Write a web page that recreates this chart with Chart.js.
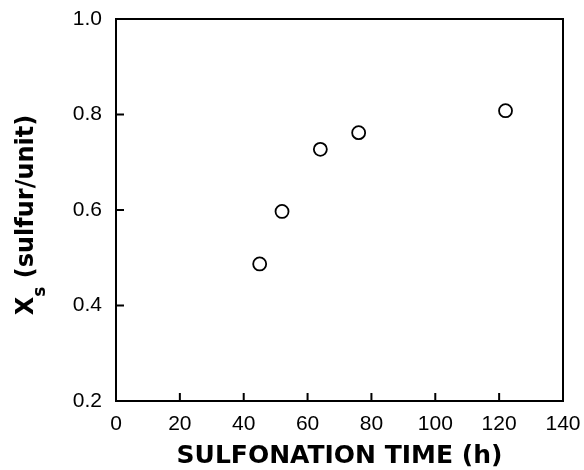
<!DOCTYPE html>
<html lang="en">
<head>
    <meta charset="UTF-8">
    <title>Sulfonation time</title>
    <script src="https://cdn.jsdelivr.net/npm/chart.js"></script>
    <style>
        html, body {margin:0; padding:0; background:#fff;}
        .wrap {width:584px; height:470px; position:relative;}
    </style>
</head>
<body>
    <div class="wrap"><canvas id="chart"></canvas></div>
    <script>
    // values
    const timeHours = [45, 52, 64, 76, 122];
    const sulfurPerUnit = [0.487, 0.597, 0.727, 0.762, 0.808];
    const xTicks = [0, 20, 40, 60, 80, 100, 120, 140];
    const yTicks = [0.2, 0.4, 0.6, 0.8, 1.0];

    const ink = '#000';
    const tickFamily = '"Liberation Sans", Arial, sans-serif';
    const titleFamily = '"DejaVu Sans", sans-serif';

    // frame + inward tick marks + y title with subscript
    const framePlugin = {
        id: 'frame',
        afterDraw(chart) {
            const {ctx, chartArea: a, scales} = chart;
            ctx.save();
            ctx.strokeStyle = ink;
            ctx.lineWidth = 2;
            ctx.strokeRect(a.left, a.top, a.right - a.left, a.bottom - a.top);
            ctx.beginPath();
            xTicks.forEach(v => {
                const px = scales.x.getPixelForValue(v);
                ctx.moveTo(px, a.bottom);
                ctx.lineTo(px, a.bottom - 8);
            });
            yTicks.forEach(v => {
                const py = scales.y.getPixelForValue(v);
                ctx.moveTo(a.left, py);
                ctx.lineTo(a.left + 8, py);
            });
            ctx.stroke();

            // y title: X_s (sulfur/unit)
            const big = 'bold 24px ' + titleFamily, small = 'bold 17px ' + titleFamily;
            ctx.font = big;
            const wX = ctx.measureText('X').width;
            const wRest = ctx.measureText(' (sulfur/unit)').width;
            ctx.font = small;
            const wS = ctx.measureText('s').width;
            const total = wX + wS + wRest;
            ctx.translate(33, (a.top + a.bottom) / 2 + 5);
            ctx.rotate(-Math.PI / 2);
            ctx.fillStyle = ink;
            ctx.textBaseline = 'alphabetic';
            const x0 = -total / 2;
            ctx.font = big;
            ctx.fillText('X', x0, 0);
            ctx.font = small;
            ctx.fillText('s', x0 + wX, 12);
            ctx.font = big;
            ctx.fillText(' (sulfur/unit)', x0 + wX + wS, 0);
            ctx.restore();
        }
    };

    function fixBox(size) {
        return s => {
            if (s.isHorizontal()) s.height = size; else s.width = size;
            s.paddingTop = s.paddingBottom = s.paddingLeft = s.paddingRight = 0;
        };
    }

    new Chart(document.getElementById('chart'), {
        type: 'scatter',
        data: {
            datasets: [{
                data: timeHours.map((t, i) => ({x: t, y: sulfurPerUnit[i]})),
                pointRadius: 6.5,
                pointHoverRadius: 6.5,
                pointBorderWidth: 1.8,
                pointBorderColor: ink,
                pointBackgroundColor: '#fff'
            }]
        },
        options: {
            responsive: true,
            maintainAspectRatio: false,
            animation: false,
            layout: {padding: {top: 19, right: 21, left: 0, bottom: 0}},
            plugins: {legend: {display: false}, tooltip: {enabled: false}},
            scales: {
                x: {
                    type: 'linear', min: 0, max: 140,
                    afterFit: fixBox(69),
                    afterBuildTicks: s => { s.ticks = xTicks.map(v => ({value: v})); },
                    grid: {display: false, drawTicks: false},
                    border: {display: false},
                    ticks: {color: ink, padding: 11, maxRotation: 0, font: {size: 21, family: tickFamily}},
                    title: {
                        display: true, text: 'SULFONATION TIME (h)', color: ink,
                        font: {size: 25, weight: 'bold', family: titleFamily, lineHeight: 1},
                        padding: {top: 0, bottom: 1}
                    }
                },
                y: {
                    min: 0.2, max: 1.0,
                    afterFit: fixBox(116),
                    afterBuildTicks: s => { s.ticks = yTicks.map(v => ({value: v})); },
                    grid: {display: false, drawTicks: false},
                    border: {display: false},
                    ticks: {color: ink, padding: 14, font: {size: 21, family: tickFamily}, callback: v => v.toFixed(1)}
                }
            }
        },
        plugins: [framePlugin]
    });
    </script>
</body>
</html>
